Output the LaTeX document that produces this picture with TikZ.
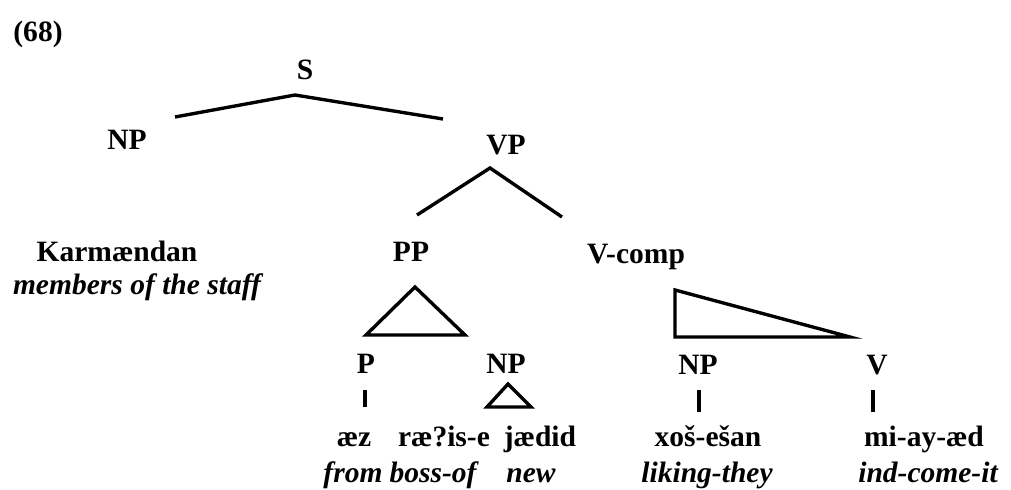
\documentclass[tikz,border=0pt]{standalone}
\usepackage{fontspec}
\setmainfont{Liberation Serif}
\usetikzlibrary{positioning}

\tikzset{
  cat/.style={anchor=base, inner sep=0pt, font=\fontsize{21}{25}\selectfont\bfseries},
  gloss/.style={anchor=base, inner sep=0pt, font=\fontsize{21}{25}\selectfont\bfseries\itshape},
  branch/.style={line width=2.4pt},
  roof/.style={line width=2.4pt, line join=miter}
}

\begin{document}
\begin{tikzpicture}[x=0.025cm, y=-0.025cm]
			\useasboundingbox (0,0) rectangle (1011,490);
			\node[cat] (ex) at (38,42) {(68)};
			% top of the tree
			\node[cat] (s) at (305,80) {S};
			\node[cat] (np) at (127,150) {NP};
			\node[cat] (vp) at (506,155) {VP};
			\node[cat] (karm) at (117,262) {Karmændan};
			\node[gloss] (staff) at (137,295) {members of the staff};
			\node[cat] (pp) at (411,262) {PP};
			\node[cat] (vc) at (636,264) {V-comp};
			% lower row
			\node[cat] (p) at (366,374) {P};
			\node[cat] (np2) at (506,374) {NP};
			\node[cat] (np3) at (698,375) {NP};
			\node[cat] (v) at (877,375) {V};
			\node[cat] (w1) at (354,447) {æz};
			\node[cat] (w2) at (444,447) {ræ?is-e};
			\node[cat] (w3) at (540,447) {jædid};
			\node[cat] (w4) at (708,447) {xoš-ešan};
			\node[cat] (w5) at (924,447) {mi-ay-æd};
			\node[gloss] (g1) at (353,482) {from};
			\node[gloss] (g2) at (433,482) {boss-of};
			\node[gloss] (g3) at (531,482) {new};
			\node[gloss] (g4) at (707,482) {liking-they};
			\node[gloss] (g5) at (928,482) {ind-come-it};
			% branch ends
			\coordinate (s-t) at (295,95);
			\coordinate (s-l) at (175,117);
			\coordinate (s-r) at (443,119);
			\coordinate (vp-t) at (490,168);
			\coordinate (vp-l) at (417,215);
			\coordinate (vp-r) at (562,217);
			\coordinate (pp-t) at (415,287);
			\coordinate (pp-l) at (366,335);
			\coordinate (pp-r) at (465,335);
			\coordinate (np2-t) at (508,384);
			\coordinate (np2-l) at (487,407);
			\coordinate (np2-r) at (531,407);
			\coordinate (vc-t) at (675,290);
			\coordinate (vc-l) at (675,337);
			\coordinate (vc-r) at (850,337);
			\coordinate (p-t) at (365,390);
			\coordinate (p-b) at (365,407);
			\coordinate (np3-t) at (699,390);
			\coordinate (np3-b) at (699,412);
			\coordinate (v-t) at (873,390);
			\coordinate (v-b) at (873,412);
			\draw[branch] (s-l) -- (s-t) -- (s-r);
			\draw[branch] (vp-l) -- (vp-t) -- (vp-r);
			\draw[roof] (pp-t) -- (pp-l) -- (pp-r) -- cycle;
			\draw[roof] (np2-t) -- (np2-l) -- (np2-r) -- cycle;
			\draw[roof] (vc-t) -- (vc-l) -- (vc-r) -- cycle;
			\draw[branch] (p-t) -- (p-b);
			\draw[branch] (np3-t) -- (np3-b);
			\draw[branch] (v-t) -- (v-b);
		\end{tikzpicture}
\end{document}
